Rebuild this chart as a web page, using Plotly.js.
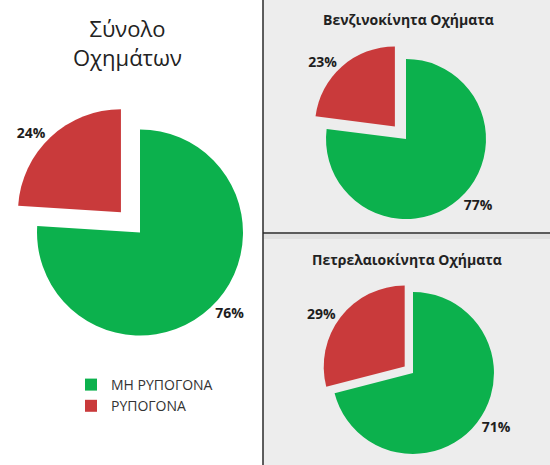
<!DOCTYPE html>
<html>
<head>
<meta charset="utf-8">
<script src="https://cdn.plot.ly/plotly-3.0.1.min.js"></script>
<style>html,body{margin:0;padding:0;background:#fff;}#chart{width:550px;height:465px;}</style>
</head>
<body>
<div id="chart"></div>
<script>
// Data
const labels = ['ΜΗ ΡΥΠΟΓΟΝΑ', 'ΡΥΠΟΓΟΝΑ'];
const totalValues = [76, 24];
const petrolValues = [77, 23];
const dieselValues = [71, 29];
const chartTitles = ['Σύνολο<br>Οχημάτων', 'Βενζινοκίνητα Οχήματα', 'Πετρελαιοκίνητα Οχήματα'];
const sliceColors = ['#0cb14d', '#c93a3b'];

const W = 550, H = 465;
const px = x => x / W;
const py = y => 1 - y / H;

const labelFont = {family: 'Open Sans, sans-serif', size: 14, color: '#1e1e1e', weight: 700};

function pieTrace(values, pull, dx, dy, showlegend) {
  return {
    type: 'pie',
    labels: labels,
    values: values,
    sort: false,
    direction: 'clockwise',
    rotation: 0,
    pull: [0, pull],
    marker: {colors: sliceColors, line: {width: 0}},
    textinfo: 'percent',
    textposition: 'outside',
    textfont: labelFont,
    outsidetextfont: labelFont,
    domain: {x: dx, y: dy},
    showlegend: showlegend,
    hoverinfo: 'label+percent'
  };
}

const data = [
  pieTrace(totalValues, 0.27, [px(9.2), px(270.8)], [py(363.3), py(101.7)], true),
  pieTrace(petrolValues, 0.21, [px(309.2), px(502.8)], [py(235.8), py(42.2)], false),
  pieTrace(dieselValues, 0.13, [px(321.5), px(504.5)], [py(464.5), py(281.5)], false)
];

const layout = {
  width: W,
  height: H,
  margin: {l: 0, r: 0, t: 0, b: 0},
  paper_bgcolor: '#ffffff',
  plot_bgcolor: '#ffffff',
  font: {family: 'Open Sans, sans-serif', color: '#222'},
  showlegend: true,
  legend: {
    x: px(71), y: py(369), xanchor: 'left', yanchor: 'top',
    bgcolor: 'rgba(0,0,0,0)',
    font: {family: 'Open Sans, sans-serif', size: 14, color: '#333'},
    tracegroupgap: 0
  },
  shapes: [
    {type: 'rect', xref: 'paper', yref: 'paper', x0: px(263), x1: 1, y0: 0, y1: 1,
     fillcolor: '#ededed', line: {width: 0}, layer: 'below'},
    {type: 'rect', xref: 'paper', yref: 'paper', x0: px(264), x1: 1, y0: py(239), y1: py(234),
     fillcolor: '#e0e0e0', line: {width: 0}, layer: 'below'},
    {type: 'line', xref: 'paper', yref: 'paper', x0: px(263), x1: px(263), y0: 0, y1: 1,
     line: {color: '#2a2a2a', width: 1.5}},
    {type: 'line', xref: 'paper', yref: 'paper', x0: px(263), x1: 1, y0: py(233), y1: py(233),
     line: {color: '#2a2a2a', width: 1.5}}
  ],
  annotations: [
    {text: chartTitles[0], xref: 'paper', yref: 'paper', x: px(127), y: py(42), xanchor: 'center', yanchor: 'middle',
     showarrow: false, font: {family: 'Open Sans, sans-serif', size: 22, color: '#222'}},
    {text: '<b>' + chartTitles[1] + '</b>', xref: 'paper', yref: 'paper', x: px(408), y: py(20), xanchor: 'center', yanchor: 'middle',
     showarrow: false, font: {family: 'Open Sans, sans-serif', size: 14, color: '#222'}},
    {text: '<b>' + chartTitles[2] + '</b>', xref: 'paper', yref: 'paper', x: px(407), y: py(259), xanchor: 'center', yanchor: 'middle',
     showarrow: false, font: {family: 'Open Sans, sans-serif', size: 14, color: '#222'}}
  ]
};

Plotly.newPlot('chart', data, layout, {displayModeBar: false, staticPlot: true});
</script>
</body>
</html>
